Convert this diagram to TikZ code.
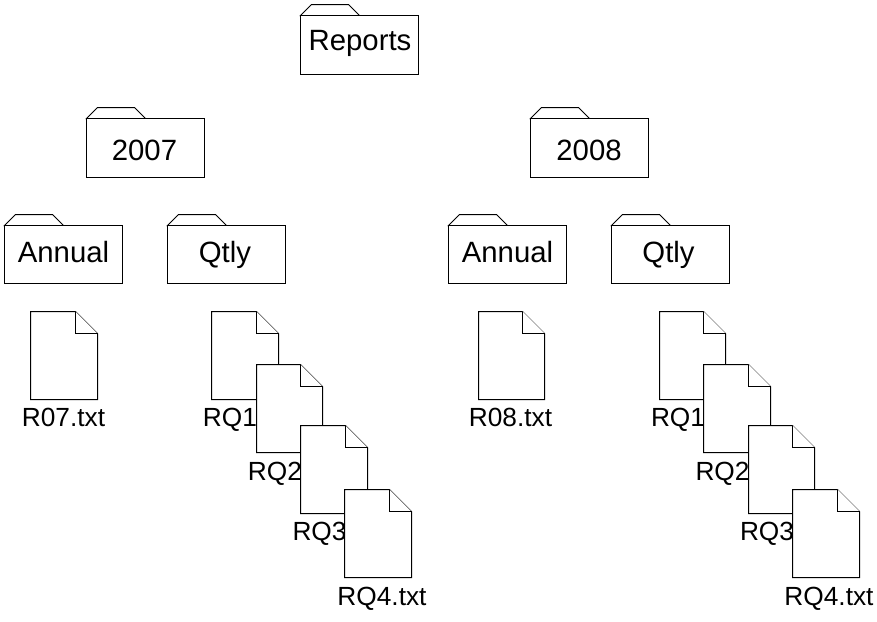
\documentclass[tikz,border=0pt]{standalone}
\usepackage{fontspec}
\setmainfont{Liberation Sans}
\tikzset{
  outline/.style={draw=black,line width=0.75pt,fill=white,line join=miter},
  folderlabel/.style={inner sep=0pt,font=\fontsize{22}{24}\selectfont,anchor=base},
  doclabel/.style={inner sep=0pt,font=\fontsize{19.7}{22}\selectfont,anchor=base}
}
% #1 name, #2 left, #3 top (body), #4 height, #5 text x, #6 text base y, #7 text
\newcommand{\folderbox}[7]{%
  \draw[outline] (#2,#3) -- ++(11,-11) -- ++(37,0) -- ++(11,11) -- cycle;
  \draw[outline] (#2,#3) rectangle ++(118,#4);
  \node[folderlabel] (#1) at (#5,#6) {#7};
}
% [#1 fold start offset], #2 name, #3 left, #4 top, #5 text centre x, #6 text base y, #7 text
\newcommand{\docsheet}[7][45]{%
  \node[doclabel] (#2) at (#5,#6) {#7};
  \draw[outline] (#3,#4) -- ++(#1,0) -- ++(22,22) -- ++(0,66) -- ++(-#1-22,0) -- cycle;
  \draw[outline] (#3+#1,#4) -- ++(0,22) -- ++(22,0);
}
\begin{document}
\begin{tikzpicture}[x=0.75pt,y=-0.75pt]
\useasboundingbox (0,0) rectangle (877,621);
\fill[white] (0,0) rectangle (877,621);
\folderbox{reports}{300.5}{15.5}{59}{360}{50}{Reports}
\folderbox{a}{86.5}{118.5}{59}{144.5}{160}{2007}
\folderbox{b}{530.5}{118.5}{59}{589}{160}{2008}
\folderbox{aann}{4.5}{225.5}{58}{63.5}{262}{Annual}
\folderbox{aqt}{167.5}{225.5}{58}{225}{262}{Qtly}
\folderbox{bann}{448.5}{225.5}{58}{507.5}{262}{Annual}
\folderbox{bqt}{611.5}{225.5}{58}{668.5}{262}{Qtly}
\docsheet{r7}{30.5}{311.5}{63.5}{426}{R07.txt}
\docsheet{a1}{211.5}{311.5}{230}{426}{RQ1}
\docsheet[44]{a2}{256.5}{364.5}{275}{480}{RQ2}
\docsheet{a3}{300.5}{425.5}{319.5}{540}{RQ3}
\docsheet{a4}{344.5}{489.5}{382}{605}{RQ4.txt}
\docsheet[44]{r8}{478.5}{311.5}{510.5}{426}{R08.txt}
\docsheet[44]{b1}{659.5}{311.5}{678}{426}{RQ1}
\docsheet{b2}{703.5}{364.5}{722.5}{480}{RQ2}
\docsheet[44]{b3}{748.5}{425.5}{767}{540}{RQ3}
\docsheet{b4}{792.5}{489.5}{829}{605}{RQ4.txt}
\end{tikzpicture}
\end{document}
